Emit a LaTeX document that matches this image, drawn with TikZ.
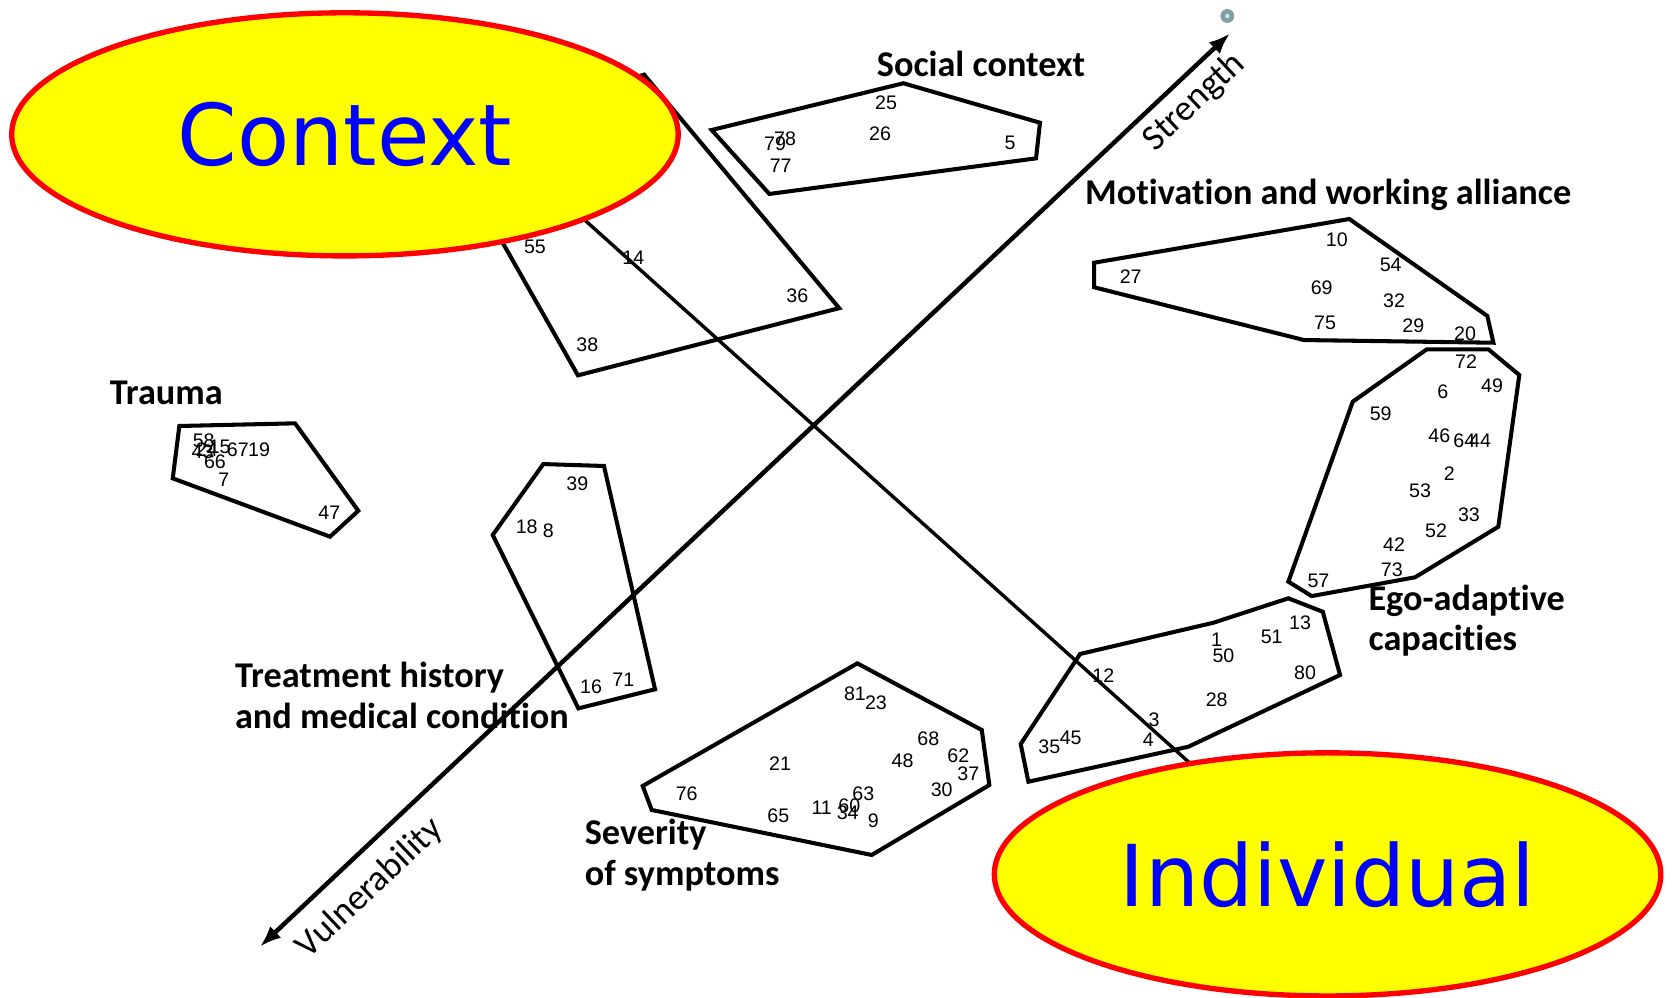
\documentclass[tikz,border=0pt]{standalone}
\usepackage{fontspec}
\setmainfont{Liberation Sans}
\newfontfamily\labfont[Ligatures=NoCommon]{Carlito}
\newfontfamily\bigfont{DejaVu Sans}
\usetikzlibrary{arrows.meta,shapes.geometric}
\definecolor{ellyellow}{RGB}{255,255,0}
\definecolor{ellred}{RGB}{255,0,0}
\definecolor{ellblue}{RGB}{0,0,255}
\definecolor{dotouter}{RGB}{128,160,166}
\definecolor{dotinner}{RGB}{205,232,236}
\begin{document}
\begin{tikzpicture}[x=0.5pt,y=-0.5pt,
  cluster/.style={draw=black,line width=1.9pt,line join=miter},
  axisline/.style={draw=black,line width=2.1pt,{Latex[length=10pt,width=7.5pt]}-{Latex[length=10pt,width=7.5pt]}},
  diagline/.style={draw=black,line width=1.6pt},
  bigell/.style={ellipse,draw=ellred,fill=ellyellow,line width=2.5pt,inner sep=0pt,
     minimum width=312.5pt,minimum height=114pt,text=ellblue,
     font=\bigfont\fontsize{40}{44}\selectfont},
  num/.style={inner sep=0pt,font=\fontsize{9.2}{10}\selectfont},
  title/.style={inner sep=0pt,font=\labfont\bfseries\fontsize{17}{19}\selectfont,align=left},
  axislabel/.style={inner sep=0pt,font=\labfont\fontsize{17}{19}\selectfont}]
\useasboundingbox (0,0) rectangle (1568,935);
\fill[white] (0,0) rectangle (1568,935);

% clusters
\draw[cluster] (604,70) -- (787,289) -- (542,352) -- (416,130) -- cycle;
\draw[cluster] (667.4,121.9) -- (847.2,78.1) -- (975.3,115.1) -- (971.6,148.5) -- (721.5,181.9) -- cycle;
\draw[cluster] (1026,246.4) -- (1265.4,205.4) -- (1394.8,296.3) -- (1400.5,321.4) -- (1222.9,318.9) -- (1026,269.4) -- cycle;
\draw[cluster] (1338,327.6) -- (1395.8,327.6) -- (1424.8,351.7) -- (1405.1,494) -- (1327,541.4) -- (1230.1,559) -- (1208.2,545.5) -- (1268.6,376.7) -- cycle;
\draw[cluster] (1012.9,613.3) -- (1137.9,584) -- (1208.2,561.1) -- (1240.5,573.7) -- (1256.7,633) -- (1114.4,700.3) -- (964.4,733.1) -- (957.2,697.7) -- cycle;
\draw[cluster] (804,622.1) -- (920.7,684.6) -- (927.8,736.2) -- (817.5,801.8) -- (611.2,759.6) -- (602.7,737.1) -- cycle;
\draw[cluster] (509.5,435.2) -- (566.4,437) -- (614.3,646.4) -- (542.4,664.3) -- (462.1,501.7) -- cycle;
\draw[cluster] (168.2,399.5) -- (276.7,397) -- (336,479) -- (309.5,503.3) -- (162,448.6) -- cycle;

% axes
\coordinate (vul) at (243.8,887.8);
\coordinate (str) at (1153.5,31.3);
\draw[axisline] (vul) -- (str);
\coordinate (da) at (470,136);
\coordinate (db) at (1140,737.3);
\draw[diagline] (da) -- (db);

% ellipses
\node[bigell] (context) at (323.5,126) {Context};
\node[bigell] (individual) at (1245,820) {Individual};

% dot
\node[circle,fill=dotouter,inner sep=0pt,minimum size=6.5pt] (dot) at (1151,15) {};
\node[circle,fill=dotinner,inner sep=0pt,minimum size=2pt] (dotc) at (dot) {};

% axis labels
\node[axislabel,rotate=43.3] (strength) at (1120,96) {Strength};
\node[axislabel,rotate=43.3] (vulnerability) at (347,833) {Vulnerability};

% titles
\node[title] (tsocial) at (920,60) {Social context};
\node[title] (tmotiv) at (1245.5,183) {Motivation and working alliance};
\node[title] (ttrauma) at (156,368) {Trauma};
\node[title,anchor=west] (ttreat) at (220,652) {Treatment history\\and medical condition};
\node[title,anchor=west] (tsev) at (548,802) {Severity\\of symptoms};
\node[title,anchor=west] (tego) at (1283,582) {Ego-adaptive\\capacities};

% item numbers
\foreach \lbl/\px/\py in {
  25/831/96, 26/825.3/125, 5/947.2/134.4, 79/726.8/135, 78/736.2/129.7, 77/732.1/155.7,
  10/1253.6/225.1, 54/1304.2/248.5, 27/1060.4/259.5, 69/1239.5/269.5, 32/1307.3/282,
  75/1242.6/302.6, 29/1325.4/305.7, 20/1373.9/313.2,
  72/1374.8/339.2, 6/1353/367.3, 49/1399.2/362, 59/1294.8/387.6, 46/1349.8/408.9,
  64/1373.3/413.3, 44/1388/413.3, 2/1359.2/443.9, 53/1331.7/460.2, 33/1377.6/483,
  52/1346.7/497.7, 42/1307.3/511.1, 73/1305.2/534.6, 57/1236.4/544.6,
  1/1141/600.2, 50/1147.3/615.2, 51/1192.6/597.1, 13/1219.2/584, 80/1223.9/630.9,
  12/1034.7/634, 28/1141/655.8, 3/1082.3/675.2, 4/1077/693.4, 35/984.1/700.2, 45/1004.1/692.4,
  81/801.8/650.9, 23/821.5/659, 68/870.6/692.4, 62/898.7/709, 48/846.5/713.4, 37/908.1/725.9,
  21/731.5/716.5, 30/883.1/740.9, 63/809.6/744, 76/644/744.6, 11/770.6/757.1, 60/796.5/755.9,
  34/795/762.2, 9/819/769.7, 65/729.9/765.3,
  39/541.4/453.9, 18/493.9/494, 8/514.2/498, 16/554.3/644, 71/584.6/637.7,
  55/501.7/231.3, 14/594/241.3, 36/747.7/277.3, 38/550.8/323.5,
  58/191/413, 43/190/424, 24/194/422, 15/206/419, 67/223/422, 19/243/421.5, 66/201.6/433,
  7/210/449.5, 47/308.8/480.8}
  \node[num] (n\lbl) at (\px,\py) {\lbl};
\end{tikzpicture}
\end{document}
